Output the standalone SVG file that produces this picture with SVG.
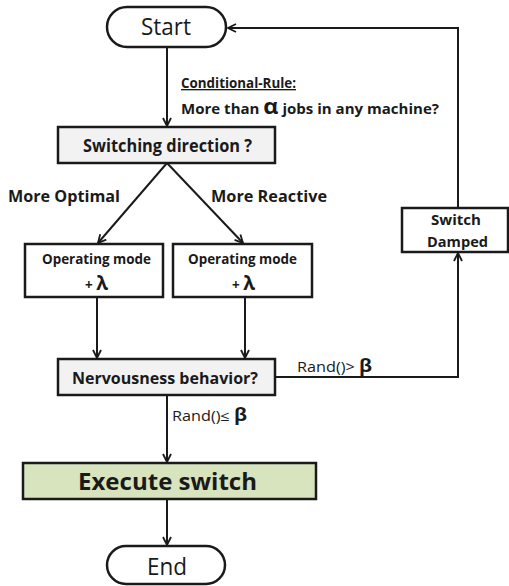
<svg xmlns="http://www.w3.org/2000/svg" width="509" height="586" viewBox="0 0 509 586">
<style>
.box{stroke:#1a1a1a;stroke-width:2.5;fill:#fff}
.gray{fill:#f2f2f2}
.green{fill:#d7e4bd}
.t{font-family:"Open Sans","Noto Sans","Liberation Sans",sans-serif;fill:#1a1a1a}
.b{font-weight:bold}
.ln{stroke:#1a1a1a;stroke-width:2;fill:none}
</style>
<defs>
<marker id="ah" viewBox="0 0 10 10" refX="9" refY="5" markerWidth="10" markerHeight="10" markerUnits="userSpaceOnUse" orient="auto">
<path d="M1,1 L9,5 L1,9" fill="none" stroke="#1a1a1a" stroke-width="1.8"/>
</marker>
</defs>
<rect width="509" height="586" fill="#fff"/>
<g id="connectors">
<line class="ln" x1="167" y1="47" x2="167" y2="126" marker-end="url(#ah)"/>
<line class="ln" x1="167" y1="163" x2="98" y2="243" marker-end="url(#ah)"/>
<line class="ln" x1="167" y1="163" x2="243" y2="243" marker-end="url(#ah)"/>
<line class="ln" x1="97" y1="297" x2="97" y2="358" marker-end="url(#ah)"/>
<line class="ln" x1="245" y1="297" x2="245" y2="358" marker-end="url(#ah)"/>
<polyline class="ln" points="275,377 458,377 458,253" marker-end="url(#ah)"/>
<polyline class="ln" points="458,208 458,28 228,28" marker-end="url(#ah)"/>
<line class="ln" x1="167" y1="395" x2="167" y2="462" marker-end="url(#ah)"/>
<line class="ln" x1="167" y1="499" x2="167" y2="545" marker-end="url(#ah)"/>
<text class="t b" x="181" y="88" font-size="13.5" text-decoration="underline" textLength="115" lengthAdjust="spacingAndGlyphs">Conditional-Rule:</text>
<text class="t b" x="181" y="114" font-size="13.5" textLength="258" lengthAdjust="spacingAndGlyphs">More than <tspan font-size="21">α</tspan> jobs in any machine?</text>
<text class="t b" x="8" y="202" font-size="16" textLength="112" lengthAdjust="spacingAndGlyphs">More Optimal</text>
<text class="t b" x="211" y="202" font-size="16" textLength="116" lengthAdjust="spacingAndGlyphs">More Reactive</text>
<text class="t" x="297" y="372" font-size="14" textLength="75" lengthAdjust="spacingAndGlyphs">Rand()&gt; <tspan font-size="17" font-weight="bold">β</tspan></text>
<text class="t" x="172" y="421" font-size="14" textLength="75" lengthAdjust="spacingAndGlyphs">Rand()≤ <tspan font-size="17" font-weight="bold">β</tspan></text>
</g>
<g id="start">
<rect class="box" x="107" y="7" width="119" height="40" rx="20"/>
<text class="t" x="141" y="35" font-size="24" textLength="50" lengthAdjust="spacingAndGlyphs">Start</text>
</g>
<g id="switching">
<rect class="box gray" x="58" y="127" width="217" height="36"/>
<text class="t b" x="83" y="152" font-size="17" textLength="169" lengthAdjust="spacingAndGlyphs">Switching direction ?</text>
</g>
<g id="opLeft">
<rect class="box" x="25" y="244" width="138" height="53"/>
<text class="t b" x="42" y="264" font-size="13.5" textLength="109" lengthAdjust="spacingAndGlyphs">Operating mode</text>
<text class="t b" x="85" y="290" font-size="14" textLength="23" lengthAdjust="spacingAndGlyphs">+ <tspan font-size="20">λ</tspan></text>
</g>
<g id="opRight">
<rect class="box" x="173" y="244" width="139" height="53"/>
<text class="t b" x="188" y="264" font-size="13.5" textLength="109" lengthAdjust="spacingAndGlyphs">Operating mode</text>
<text class="t b" x="232" y="290" font-size="14" textLength="23" lengthAdjust="spacingAndGlyphs">+ <tspan font-size="20">λ</tspan></text>
</g>
<g id="nervousness">
<rect class="box gray" x="58" y="359" width="217" height="36"/>
<text class="t b" x="72" y="384" font-size="16" textLength="186" lengthAdjust="spacingAndGlyphs">Nervousness behavior?</text>
</g>
<g id="damped">
<rect class="box" x="402" y="208" width="106" height="44"/>
<text class="t b" x="431" y="225" font-size="14" textLength="50" lengthAdjust="spacingAndGlyphs">Switch</text>
<text class="t b" x="427" y="247" font-size="14" textLength="61" lengthAdjust="spacingAndGlyphs">Damped</text>
</g>
<g id="execute">
<rect class="box green" x="23" y="463" width="293" height="36"/>
<text class="t b" x="78" y="490" font-size="24" textLength="179" lengthAdjust="spacingAndGlyphs">Execute switch</text>
</g>
<g id="end">
<rect class="box" x="107" y="546" width="118" height="38" rx="19"/>
<text class="t" x="147" y="575" font-size="24" textLength="40" lengthAdjust="spacingAndGlyphs">End</text>
</g>
</svg>
